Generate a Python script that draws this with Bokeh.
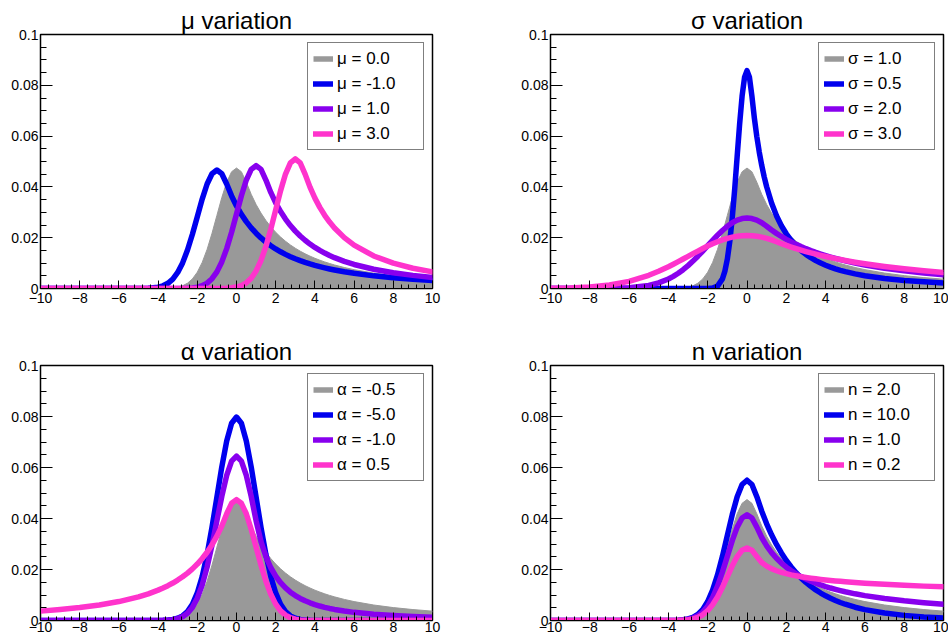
from bokeh.plotting import figure
from bokeh.layouts import gridplot
from bokeh.models import (Range1d, FixedTicker, Legend, LegendItem,
                          CustomJSTickFormatter, ColumnDataSource)
from bokeh.embed import file_html
from bokeh.resources import INLINE

# ---------------- data ----------------
X = [-10, -9, -8, -7, -6, -5, -4.5, -4, -3.75, -3.5, -3.25, -3, -2.75, -2.5,
     -2.25, -2, -1.75, -1.5, -1.25, -1, -0.75, -0.5, -0.25, 0, 0.25, 0.5,
     0.75, 1, 1.25, 1.5, 1.75, 2, 2.25, 2.5, 2.75, 3, 3.25, 3.5, 3.75, 4,
     4.25, 4.5, 4.75, 5, 5.5, 6, 7, 8, 9, 10]

# default curve (mu=0, sigma=1, alpha=-0.5, n=2) - grey filled in every panel
default_y = [0, 0, 0, 0, 0, 0, 0.000002, 0.000016, 0.000042, 0.000104, 0.000241,
             0.000527, 0.001081, 0.002084, 0.003773, 0.006418, 0.010256, 0.015396,
             0.021712, 0.028764, 0.035797, 0.041852, 0.045965, 0.047424, 0.045965,
             0.041852, 0.037073, 0.033068, 0.029679, 0.026785, 0.024295, 0.022137,
             0.020253, 0.018601, 0.017142, 0.015849, 0.014697, 0.013666, 0.012740,
             0.011905, 0.011149, 0.010463, 0.009839, 0.009268, 0.008267, 0.007420,
             0.006074, 0.005063, 0.004286, 0.003674]

# mu variation
mu_m1_y = [0, 0, 0, 0, 0, 0.000016, 0.000102, 0.000518, 0.001063, 0.002049, 0.003710,
           0.006310, 0.010084, 0.015137, 0.021347, 0.028280, 0.035195, 0.041147,
           0.045191, 0.046626, 0.045191, 0.041147, 0.036449, 0.032512, 0.029179,
           0.026334, 0.023886, 0.021764, 0.019913, 0.018288, 0.016854, 0.015582,
           0.014449, 0.013436, 0.012525, 0.011704, 0.010961, 0.010287, 0.009673,
           0.009112, 0.008599, 0.008128, 0.007694, 0.007295, 0.006584, 0.005971,
           0.004978, 0.004214, 0.003613, 0.003131]
mu_p1_y = [0, 0, 0, 0, 0, 0, 0, 0, 0.000001, 0.000002, 0.000006, 0.000016, 0.000043,
           0.000106, 0.000246, 0.000537, 0.001103, 0.002126, 0.003849, 0.006548,
           0.010464, 0.015708, 0.022151, 0.029346, 0.036522, 0.042699, 0.046895,
           0.048384, 0.046895, 0.042699, 0.037823, 0.033737, 0.030280, 0.027327,
           0.024787, 0.022585, 0.020663, 0.018977, 0.017489, 0.016170, 0.014994,
           0.013942, 0.012997, 0.012145, 0.010674, 0.009456, 0.007570, 0.006197,
           0.005166, 0.004372]
mu_p3_y = [0, 0, 0, 0, 0, 0, 0, 0, 0, 0, 0, 0, 0, 0, 0, 0, 0, 0.000002, 0.000006,
           0.000017, 0.000045, 0.000112, 0.000260, 0.000567, 0.001163, 0.002243,
           0.004061, 0.006908, 0.011038, 0.016570, 0.023368, 0.030957, 0.038527,
           0.045043, 0.049470, 0.051040, 0.049470, 0.045043, 0.039899, 0.035589,
           0.031942, 0.028827, 0.026147, 0.023824, 0.020019, 0.017058, 0.012812,
           0.009975, 0.007985, 0.006537]

# sigma variation
X_S05 = [-10, -5, -2.5, -2.25, -2, -1.75, -1.5, -1.25, -1.125, -1, -0.875, -0.75,
         -0.625, -0.5, -0.375, -0.25, -0.125, 0, 0.125, 0.25, 0.375, 0.5, 0.625,
         0.75, 0.875, 1, 1.25, 1.5, 1.75, 2, 2.25, 2.5, 2.75, 3, 3.25, 3.5, 3.75,
         4, 4.25, 4.5, 4.75, 5, 5.5, 6, 7, 8, 9, 10]
sig05_y = [0, 0, 0, 0.000003, 0.000029, 0.000188, 0.000953, 0.003770, 0.006826,
           0.011611, 0.018554, 0.027853, 0.039279, 0.052036, 0.064760, 0.075712,
           0.083153, 0.085793, 0.083153, 0.075712, 0.067067, 0.059821, 0.053690,
           0.048456, 0.043951, 0.040046, 0.033650, 0.028672, 0.024722, 0.021536,
           0.018928, 0.016767, 0.014955, 0.013422, 0.012114, 0.010987, 0.010011,
           0.009160, 0.008412, 0.007753, 0.007168, 0.006647, 0.005762, 0.005042,
           0.003956, 0.003186, 0.002621, 0.002194]
sig2_y = [0, 0.000001, 0.000009, 0.000061, 0.000308, 0.001220, 0.002209, 0.003757,
          0.004787, 0.006004, 0.007414, 0.009013, 0.010788, 0.012710, 0.014744,
          0.016839, 0.018932, 0.020956, 0.022836, 0.024500, 0.025877, 0.026908,
          0.027546, 0.027762, 0.027546, 0.026908, 0.025877, 0.024500, 0.023038,
          0.021702, 0.020480, 0.019358, 0.018326, 0.017374, 0.016494, 0.015680,
          0.014924, 0.014222, 0.013569, 0.012959, 0.012389, 0.011856, 0.011357,
          0.010889, 0.010035, 0.009278, 0.008000, 0.006969, 0.006125, 0.005425]
sig3_y = [0.000081, 0.000232, 0.000596, 0.001371, 0.002823, 0.005202, 0.006773,
          0.008576, 0.009551, 0.010563, 0.011601, 0.012653, 0.013705, 0.014741,
          0.015747, 0.016704, 0.017597, 0.018410, 0.019126, 0.019734, 0.020219,
          0.020573, 0.020789, 0.020861, 0.020789, 0.020573, 0.020219, 0.019734,
          0.019126, 0.018410, 0.017666, 0.016966, 0.016308, 0.015686, 0.015100,
          0.014546, 0.014022, 0.013525, 0.013055, 0.012609, 0.012185, 0.011782,
          0.011399, 0.011034, 0.010355, 0.009737, 0.008656, 0.007746, 0.006972,
          0.006308]

# alpha variation
alpha_m5_y = [0, 0, 0, 0, 0, 0, 0.000003, 0.000027, 0.000071, 0.000175, 0.000406,
              0.000886, 0.001818, 0.003506, 0.006348, 0.010798, 0.017256, 0.025903,
              0.036529, 0.048394, 0.060227, 0.070413, 0.077333, 0.079788, 0.077333,
              0.070413, 0.060227, 0.048394, 0.036529, 0.025903, 0.017256, 0.010798,
              0.006348, 0.003506, 0.001818, 0.000886, 0.000406, 0.000175, 0.000071,
              0.000027, 0.000010, 0.000003, 0.000001, 0, 0, 0, 0, 0, 0, 0]
alpha_m1_y = [0, 0, 0, 0, 0, 0, 0.000003, 0.000022, 0.000057, 0.000141, 0.000328,
              0.000716, 0.001470, 0.002834, 0.005131, 0.008728, 0.013946, 0.020935,
              0.029523, 0.039112, 0.048676, 0.056909, 0.062501, 0.064486, 0.062501,
              0.056909, 0.048676, 0.039112, 0.030904, 0.025032, 0.020688, 0.017383,
              0.014812, 0.012772, 0.011125, 0.009778, 0.008662, 0.007726, 0.006934,
              0.006258, 0.005676, 0.005172, 0.004732, 0.004346, 0.003703, 0.003193,
              0.002445, 0.001931, 0.001565, 0.001293]
alpha_p05_y = [0.003674, 0.004286, 0.005063, 0.006074, 0.007420, 0.009268, 0.010463,
               0.011905, 0.012740, 0.013666, 0.014697, 0.015849, 0.017142, 0.018601,
               0.020253, 0.022137, 0.024295, 0.026785, 0.029679, 0.033068, 0.037073,
               0.041852, 0.045965, 0.047424, 0.045965, 0.041852, 0.035797, 0.028764,
               0.021712, 0.015396, 0.010256, 0.006418, 0.003773, 0.002084, 0.001081,
               0.000527, 0.000241, 0.000104, 0.000042, 0.000016, 0.000006, 0.000002,
               0, 0, 0, 0, 0, 0, 0, 0]

# n variation
n10_y = [0, 0, 0, 0, 0, 0, 0.000002, 0.000018, 0.000049, 0.000120, 0.000280, 0.000611,
         0.001254, 0.002418, 0.004377, 0.007447, 0.011899, 0.017862, 0.025190,
         0.033372, 0.041532, 0.048556, 0.053328, 0.055021, 0.053328, 0.048556,
         0.042883, 0.037931, 0.033601, 0.029809, 0.026482, 0.023559, 0.020987,
         0.018720, 0.016721, 0.014953, 0.013388, 0.012002, 0.010772, 0.009679,
         0.008708, 0.007842, 0.007070, 0.006381, 0.005213, 0.004277, 0.002911,
         0.002010, 0.001406, 0.000996]
n1_y = [0, 0, 0, 0, 0, 0, 0.000002, 0.000014, 0.000037, 0.000091, 0.000211, 0.000461,
        0.000946, 0.001823, 0.003301, 0.005615, 0.008973, 0.013469, 0.018995,
        0.025164, 0.031318, 0.036614, 0.040212, 0.041489, 0.040212, 0.036614,
        0.032546, 0.029291, 0.026628, 0.024409, 0.022532, 0.020922, 0.019527,
        0.018307, 0.017230, 0.016273, 0.015416, 0.014645, 0.013948, 0.013314,
        0.012735, 0.012205, 0.011716, 0.011266, 0.010461, 0.009764, 0.008615,
        0.007708, 0.006974, 0.006368]
n02_y = [0, 0, 0, 0, 0, 0, 0.000001, 0.000010, 0.000025, 0.000062, 0.000144, 0.000316,
         0.000647, 0.001248, 0.002260, 0.003845, 0.006144, 0.009223, 0.013006,
         0.017231, 0.021444, 0.025071, 0.027535, 0.028409, 0.027535, 0.025071,
         0.022751, 0.021317, 0.020297, 0.019514, 0.018884, 0.018358, 0.017910,
         0.017520, 0.017177, 0.016870, 0.016593, 0.016341, 0.016111, 0.015899,
         0.015703, 0.015520, 0.015350, 0.015190, 0.014897, 0.014636, 0.014184,
         0.013806, 0.013481, 0.013196]

titles = ["\u03bc variation", "\u03c3 variation", "\u03b1 variation", "n variation"]
legend_labels = [
    ["\u03bc = 0.0", "\u03bc = -1.0", "\u03bc = 1.0", "\u03bc = 3.0"],
    ["\u03c3 = 1.0", "\u03c3 = 0.5", "\u03c3 = 2.0", "\u03c3 = 3.0"],
    ["\u03b1 = -0.5", "\u03b1 = -5.0", "\u03b1 = -1.0", "\u03b1 = 0.5"],
    ["n = 2.0", "n = 10.0", "n = 1.0", "n = 0.2"],
]

X_TICKS = [-10, -8, -6, -4, -2, 0, 2, 4, 6, 8, 10]
X_TICK_LABELS = ["\u221210", "\u22128", "\u22126", "\u22124", "\u22122", "0",
                 "2", "4", "6", "8", "10"]
Y_TICKS = [0, 0.02, 0.04, 0.06, 0.08, 0.1]
Y_TICK_LABELS = ["0", "0.02", "0.04", "0.06", "0.08", "0.1"]

# ---------------- styling ----------------
FONT = "Liberation Sans"
GRAY = "#999999"
BLUE = "#0000ee"
VIOLET = "#8800ee"
PINK = "#ff33cc"
LW = 5.5
X_MINOR = [-10 + 0.4 * i for i in range(51)]
Y_MINOR = [0.005 * i for i in range(21)]


def tick_formatter(vals, labs):
    return CustomJSTickFormatter(args=dict(vals=vals, labs=labs), code="""
        for (let i = 0; i < vals.length; i++) {
            if (Math.abs(tick - vals[i]) < 1e-9) return labs[i];
        }
        return "";
    """)


def make_panel(title, curves, labels, w, h, left, right, top, bottom, xstand):
    p = figure(width=w, height=h, x_range=Range1d(-10, 10), y_range=Range1d(0, 0.1),
               output_backend="svg", toolbar_location=None,
               min_border_left=left, min_border_right=right,
               min_border_top=top, min_border_bottom=bottom)
    # off-frame range used only to carry the grey legend key
    p.extra_y_ranges = {"legend_key": Range1d(1, 2)}
    p.background_fill_color = "white"
    p.border_fill_color = "white"
    p.outline_line_color = "black"
    p.outline_line_width = 1.5
    p.xgrid.visible = False
    p.ygrid.visible = False

    p.title.text = title
    p.title.text_font = FONT
    p.title.text_font_size = "24px"
    p.title.text_font_style = "normal"
    p.title.text_color = "black"
    p.title.align = "center"
    p.title.standoff = 2

    for ax, ticks, labs, minor, tin, tmin, stand in (
            (p.xaxis[0], X_TICKS, X_TICK_LABELS, X_MINOR, 8, 4, xstand),
            (p.yaxis[0], Y_TICKS, Y_TICK_LABELS, Y_MINOR, 12, 6, 2)):
        ax.ticker = FixedTicker(ticks=ticks, minor_ticks=minor)
        ax.formatter = tick_formatter(ticks, labs)
        ax.major_tick_in = tin
        ax.major_tick_out = 0
        ax.minor_tick_in = tmin
        ax.minor_tick_out = 0
        ax.major_tick_line_color = "black"
        ax.minor_tick_line_color = "black"
        ax.axis_line_color = "black"
        ax.major_label_standoff = stand
        ax.major_label_text_font = FONT
        ax.major_label_text_font_size = "14px"
        ax.major_label_text_color = "black"

    # grey filled default curve
    gx, gy = curves[0]
    src = ColumnDataSource(dict(x=gx, y=gy))
    p.varea(x="x", y1=0, y2="y", source=src, fill_color=GRAY)
    p.line("x", "y", source=src, line_color=GRAY, line_width=1)
    # thick grey line on the hidden range: gives the legend key, drawn off-frame
    proxy = p.line("x", "y", source=src, line_color=GRAY, line_width=LW,
                   y_range_name="legend_key")

    renderers = [proxy]
    for (cx, cy), col in zip(curves[1:], [BLUE, VIOLET, PINK]):
        r = p.line(x=cx, y=cy, line_color=col, line_width=LW,
                   line_join="round", line_cap="round")
        renderers.append(r)

    legend = Legend(items=[LegendItem(label=l, renderers=[r])
                           for l, r in zip(labels, renderers)],
                    location="top_right", margin=8, padding=5, spacing=4,
                    glyph_width=20, glyph_height=21, label_height=21,
                    label_width=81, label_standoff=4,
                    label_text_font=FONT, label_text_font_size="17px",
                    label_text_color="black",
                    border_line_color="black", border_line_width=1.5,
                    background_fill_color="white", background_fill_alpha=1)
    p.add_layout(legend)
    return p


p1 = make_panel(titles[0], [(X, default_y), (X, mu_m1_y), (X, mu_p1_y), (X, mu_p3_y)],
                legend_labels[0], 474, 318, 40, 42, 34, 30, 4)
p2 = make_panel(titles[1], [(X, default_y), (X_S05, sig05_y), (X, sig2_y), (X, sig3_y)],
                legend_labels[1], 474, 318, 76, 5, 34, 30, 4)
p3 = make_panel(titles[2], [(X, default_y), (X, alpha_m5_y), (X, alpha_m1_y), (X, alpha_p05_y)],
                legend_labels[2], 474, 319, 40, 42, 47, 17, 1)
p4 = make_panel(titles[3], [(X, default_y), (X, n10_y), (X, n1_y), (X, n02_y)],
                legend_labels[3], 474, 319, 76, 5, 47, 17, 1)

grid = gridplot([[p1, p2], [p3, p4]], toolbar_location=None)

open("out.html", "w").write(file_html(grid, INLINE))
